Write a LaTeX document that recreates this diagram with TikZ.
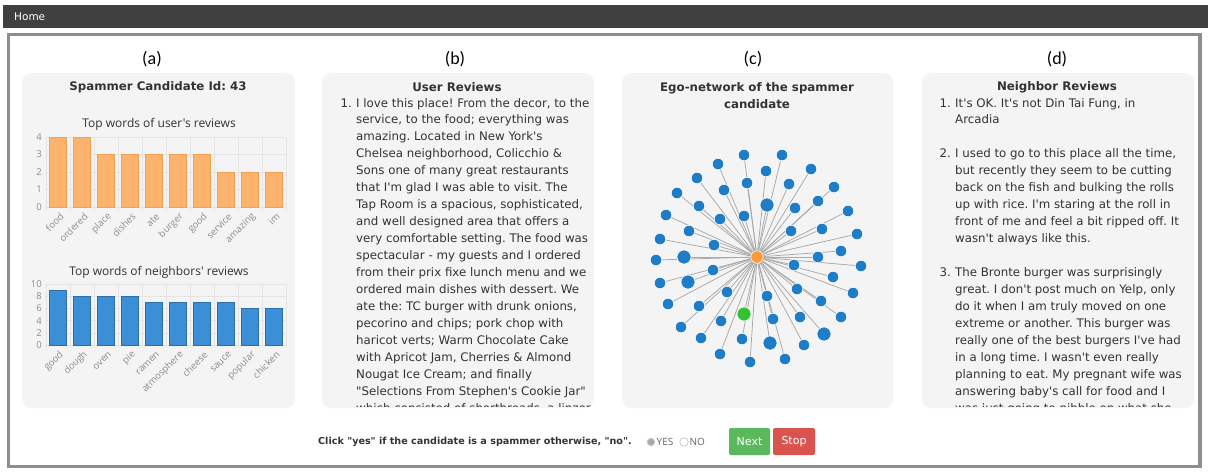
\documentclass[tikz,border=0pt]{standalone}
\usepackage{fontspec}
\setmainfont{DejaVu Sans}[Ligatures=TeXOff]
\newfontfamily\chartfont{Open Sans}[Ligatures=TeXOff]
\newfontfamily\labfont{Carlito}
\frenchspacing
\pgfdeclarelayer{back}
\pgfdeclarelayer{edges}
\pgfsetlayers{back,edges,main}
\definecolor{topbar}{HTML}{404040}
\definecolor{framegray}{HTML}{8E8E8E}
\definecolor{panelgray}{HTML}{F4F4F4}
\definecolor{revtext}{HTML}{333333}
\definecolor{obarfill}{HTML}{FDB36B}
\definecolor{obardraw}{HTML}{F0A050}
\definecolor{bbarfill}{HTML}{3B8FD6}
\definecolor{bbardraw}{HTML}{2C6EA8}
\definecolor{netblue}{HTML}{1F7CC6}
\definecolor{netgreen}{HTML}{33C233}
\definecolor{netorange}{HTML}{FF9A3C}
\definecolor{edgegray}{HTML}{A8A8A8}
\definecolor{gridgray}{HTML}{E4E4E4}
\definecolor{ticktext}{HTML}{8C8C8C}
\definecolor{nextgreen}{HTML}{5CB85C}
\definecolor{stopred}{HTML}{D9534F}
\tikzset{
  panel/.style={fill=panelgray, draw=none, rounded corners=9pt},
  plabel/.style={font=\labfont\fontsize{18}{20}\selectfont, text=black, inner sep=0pt},
  ptitle/.style={font=\bfseries\fontsize{11.8}{17}\selectfont, text=revtext, inner sep=0pt, align=center},
  rev/.style={font=\fontsize{11.8}{17}\selectfont, text=revtext, inner sep=0pt, anchor=base west},
  ctitle/.style={font=\chartfont\fontsize{12}{14}\selectfont, text=revtext, inner sep=0pt},
  ytick/.style={font=\chartfont\fontsize{9.5}{10}\selectfont, text=ticktext, inner sep=0pt, anchor=east},
  xlab/.style={font=\chartfont\fontsize{9.5}{10}\selectfont, text=ticktext, inner sep=0pt, anchor=east, rotate=45},
  obar/.style={fill=obarfill, draw=obardraw, line width=0.6pt},
  bbar/.style={fill=bbarfill, draw=bbardraw, line width=0.6pt},
  grid/.style={draw=gridgray, line width=0.5pt},
  nb/.style={circle, fill=netblue, draw=white, line width=0.6pt, inner sep=0pt, minimum size=11.5pt},
  nbl/.style={nb, minimum size=14pt},
  edge/.style={draw=edgegray, line width=0.75pt},
  btn/.style={rounded corners=2pt, text=white, font=\fontsize{11}{12}\selectfont, minimum height=27pt, inner sep=0pt}
}
\begin{document}
\begin{tikzpicture}[x=1pt,y=-1pt]
\useasboundingbox (0,0) rectangle (1208,475);
\begin{pgfonlayer}{back}
\fill[white] (0,0) rectangle (1208,475);
% top bar
\fill[topbar] (3,5) rectangle (1208,28);
\draw[framegray, line width=3.5pt] (8.5,34.5) rectangle (1200,466.5);
% panels
\path[panel] (22,73) rectangle (295,408);
\path[panel] (322,73) rectangle (594,408);
\path[panel] (622,73) rectangle (893,408);
\path[panel] (922,73) rectangle (1194,408);
\end{pgfonlayer}
\node[font=\fontsize{10.5}{12}\selectfont, text=white, anchor=west, inner sep=0pt] (home) at (14,16.5) {Home};

% panel labels
\node[plabel] (la) at (152,59) {(a)};
\node[plabel] (lb) at (455,59) {(b)};
\node[plabel] (lc) at (753,59) {(c)};
\node[plabel] (ld) at (1057,59) {(d)};

% ---------- panel (a)
\node[ptitle] (ta) at (158,87) {Spammer Candidate Id: 43};
\node[ctitle] (c1t) at (159,124) {Top words of user's reviews};
% chart 1 grid
\foreach \k in {0,...,4} {
  \draw[grid] (45,{207-17.5*\k}) -- (286,{207-17.5*\k});
  \node[ytick] (c1y\k) at (42,{207-17.5*\k}) {\k};
}
\foreach \i in {0,...,10} \draw[grid] ({46+24*\i},137) -- ({46+24*\i},210);
\foreach \w/\v [count=\i from 0] in {food/4,ordered/4,place/3,dishes/3,ate/3,burger/3,good/3,service/2,amazing/2,im/2} {
  \draw[obar] ({49+24*\i},207) rectangle ({66.5+24*\i},{207-17.5*\v});
  \node[xlab] (c1x\i) at ({62+24*\i},215) {\w};
}
% chart 2
\node[ctitle] (c2t) at (159,272) {Top words of neighbors' reviews};
\foreach \k in {0,...,5} {
  \draw[grid] (45,{345-12.2*\k}) -- (286,{345-12.2*\k});
  \pgfmathtruncatemacro{\lab}{2*\k}
  \node[ytick] (c2y\k) at (42,{345-12.2*\k}) {\lab};
}
\foreach \i in {0,...,10} \draw[grid] ({46+24*\i},284) -- ({46+24*\i},348);
\foreach \w/\v [count=\i from 0] in {good/9,dough/8,oven/8,pie/8,ramen/7,atmosphere/7,cheese/7,sauce/7,popular/6,chicken/6} {
  \draw[bbar] ({49+24*\i},345) rectangle ({66.5+24*\i},{345-6.1*\v});
  \node[xlab] (c2x\i) at ({62+24*\i},353) {\w};
}

% ---------- panel (b)
\node[ptitle] (tb) at (457,87) {User Reviews};
\begin{scope}
\clip (322,73) rectangle (594,406);
\node[rev, anchor=base east] (bn1) at (352,107) {1.};
\foreach \t [count=\i from 0] in {
{I love this place! From the decor, to the},
{service, to the food; everything was},
{amazing. Located in New York's},
{Chelsea neighborhood, Colicchio \&},
{Sons one of many great restaurants},
{that I'm glad I was able to visit. The},
{Tap Room is a spacious, sophisticated,},
{and well designed area that offers a},
{very comfortable setting. The food was},
{spectacular - my guests and I ordered},
{from their prix fixe lunch menu and we},
{ordered main dishes with dessert. We},
{ate the: TC burger with drunk onions,},
{pecorino and chips; pork chop with},
{haricot verts; Warm Chocolate Cake},
{with Apricot Jam, Cherries \& Almond},
{Nougat Ice Cream; and finally},
{"Selections From Stephen's Cookie Jar"},
{which consisted of shortbreads, a linzer}} {
  \node[rev] (bl\i) at (356,{107+16.95*\i}) {\t};
}
\end{scope}

% ---------- panel (c)
\node[ptitle] (tc) at (757,96) {Ego-network of the spammer\\candidate};
\node[circle, fill=netorange, draw=white, line width=0.6pt, inner sep=0pt, minimum size=12.5pt] (ego) at (757,257) {};
\foreach \x/\y/\s [count=\i] in {
744/155/nb,782/155/nb,718/164/nb,766/171/nb,811/169/nb,697/178/nb,747/183/nb,789/184/nb,834/187/nb,
677/193/nb,724/190/nb,767/205/nbl,795/208/nb,818/201/nb,699/206/nb,848/211/nb,666/215/nb,720/219/nb,
744/216/nb,791/231/nb,822/229/nb,689/231/nb,857/234/nb,660/239/nb,714/245/nb,841/251/nb,818/257/nb,
684/257/nbl,656/260/nb,794/265/nb,861/266/nb,713/270/nb,833/277/nb,660/283/nb,688/282/nbl,727/292/nb,
767/296/nb,797/289/nb,853/293/nb,668/304/nb,699/306/nb,821/301/nb,773/319/nb,800/317/nb,841/317/nb,
681/327/nb,721/321/nb,701/338/nb,742/339/nb,770/343/nbl,804/345/nb,824/334/nbl,720/354/nb,750/362/nb,
785/359/nb} {
  \node[\s] (n\i) at (\x,\y) {};
  \begin{pgfonlayer}{edges}
    \draw[edge] (ego.center) -- (n\i.center);
  \end{pgfonlayer}
}
\node[nbl, fill=netgreen] (ng) at (744,314) {};
\begin{pgfonlayer}{edges}
  \draw[edge] (ego.center) -- (ng.center);
\end{pgfonlayer}

% ---------- panel (d)
\node[ptitle] (td) at (1057,87) {Neighbor Reviews};
\begin{scope}
\clip (922,73) rectangle (1194,406);
\node[rev, anchor=base east] (dn1) at (951,107) {1.};
\node[rev, anchor=base east] (dn2) at (951,{107+16.95*3}) {2.};
\node[rev, anchor=base east] (dn3) at (951,{107+16.95*10}) {3.};
\foreach \t [count=\i from 0] in {
{It's OK. It's not Din Tai Fung, in},
{Arcadia},
{},
{I used to go to this place all the time,},
{but recently they seem to be cutting},
{back on the fish and bulking the rolls},
{up with rice. I'm staring at the roll in},
{front of me and feel a bit ripped off. It},
{wasn't always like this.},
{},
{The Bronte burger was surprisingly},
{great. I don't post much on Yelp, only},
{do it when I am truly moved on one},
{extreme or another. This burger was},
{really one of the best burgers I've had},
{in a long time. I wasn't even really},
{planning to eat. My pregnant wife was},
{answering baby's call for food and I},
{was just going to nibble on what she}} {
  \node[rev] (dl\i) at (955,{107+16.95*\i}) {\t};
}
\end{scope}

% ---------- bottom bar
\node[font=\bfseries\fontsize{9.6}{11}\selectfont, text=revtext, anchor=west, inner sep=0pt] (q) at (318,442) {Click "yes" if the candidate is a spammer otherwise, "no".};
\node[circle, fill=gray!70, draw=gray!40, line width=1pt, minimum size=7.5pt, inner sep=0pt] (ry) at (651,442) {};
\node[font=\chartfont\fontsize{10}{11}\selectfont, text=gray!80!black, anchor=west, inner sep=0pt] (yes) at (656.5,442) {YES};
\node[circle, fill=white, draw=gray!50, line width=0.6pt, minimum size=8.5pt, inner sep=0pt] (rn) at (684,442) {};
\node[font=\chartfont\fontsize{10}{11}\selectfont, text=gray!80!black, anchor=west, inner sep=0pt] (no) at (689.5,442) {NO};
\node[btn, fill=nextgreen, minimum width=41pt] (next) at (749.5,441.5) {Next};
\node[btn, fill=stopred, minimum width=42pt] (stop) at (794,441.5) {Stop};
\end{tikzpicture}
\end{document}
